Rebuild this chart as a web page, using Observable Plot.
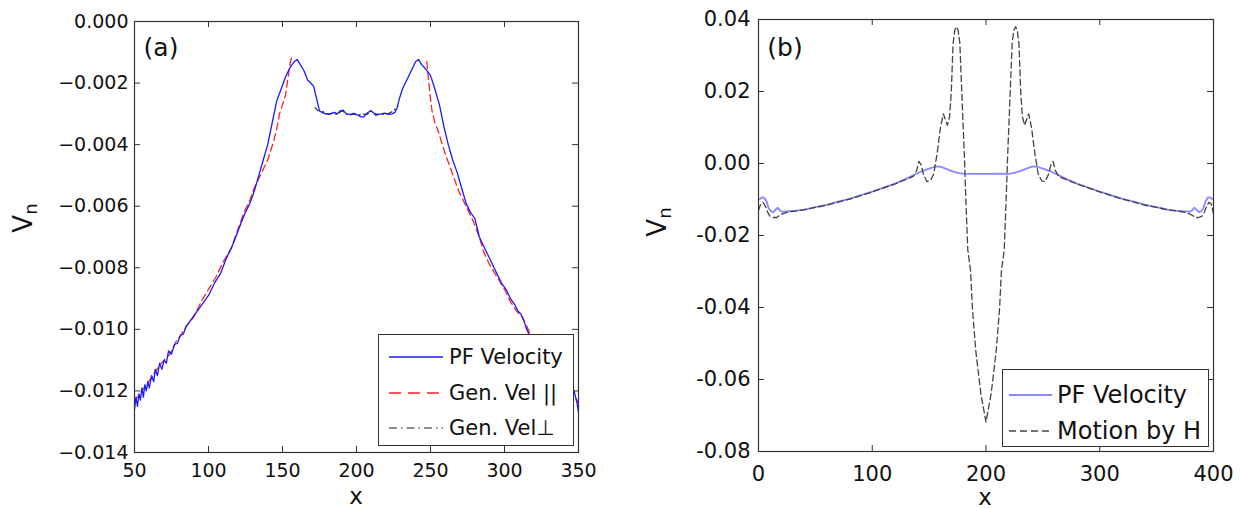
<!DOCTYPE html>
<html><head><meta charset="utf-8">
<script src="https://cdn.jsdelivr.net/npm/d3@7"></script>
<script src="https://cdn.jsdelivr.net/npm/@observablehq/plot@0.6"></script>
<style>
body{margin:0;background:#fff;}
#wrap{position:relative;width:1240px;height:509px;overflow:hidden;font-family:"DejaVu Sans",sans-serif;color:#111}
.panel{position:absolute;top:0}
.lbl{position:absolute;white-space:nowrap;line-height:1}
.legend{position:absolute;border:1.5px solid #333;background:#fff;box-sizing:border-box}
.row{position:absolute;display:flex;align-items:center;white-space:nowrap;line-height:1}
.row svg{display:block}
</style></head><body><div id="wrap"></div>
<script>
// ---------- Panel (a) data ----------
const xTicksA = [50, 100, 150, 200, 250, 300, 350];
const yTicksA = [0, -0.002, -0.004, -0.006, -0.008, -0.010, -0.012, -0.014];
const yTickLabelsA = ["0.000", "\u22120.002", "\u22120.004", "\u22120.006", "\u22120.008", "\u22120.010", "\u22120.012", "\u22120.014"];

const pfA_x = [50,51,52,53,54,55,56,57,58,59,60,61.5,63,64,65.5,67,68.5,70,71.5,73,75,77,79,81,83,85,88,91,94,97,100,104,108,112,116,120,124,128,131,134,137,140,143,146,149,152,155,158,160,162,164.5,167,169,171,173,175,176.5,179,182,185,187,189,191,193,196,198,200,203,205,207,209.5,212,214,217,219,222,224,226,227.5,229,231,233,236,238,240,242,244,246,250,253,256,259,262,265,268,271,274,277,280,283,286,289,292,295,298,301,304,307,309,311,313,315,318,321,324,327,330,333,336,339,342,344,346,347,348,349,350];
const pfA_y = [-0.0126,-0.0122,-0.0125,-0.0121,-0.0123,-0.0119,-0.0122,-0.0118,-0.0120,-0.0117,-0.0119,-0.0115,-0.0117,-0.0113,-0.0115,-0.0111,-0.0113,-0.0110,-0.0111,-0.0107,-0.0108,-0.0105,-0.01045,-0.0102,-0.01015,-0.0099,-0.0097,-0.0095,-0.0093,-0.0091,-0.0089,-0.0085,-0.0082,-0.0077,-0.0073,-0.0068,-0.0063,-0.0059,-0.0055,-0.0050,-0.0045,-0.0040,-0.0033,-0.0026,-0.0022,-0.0018,-0.0015,-0.0013,-0.00124,-0.0014,-0.0016,-0.0019,-0.0020,-0.0021,-0.0025,-0.0029,-0.00295,-0.0030,-0.0030,-0.00295,-0.0030,-0.0029,-0.00288,-0.0030,-0.00302,-0.00298,-0.00302,-0.0031,-0.0031,-0.00298,-0.0029,-0.00298,-0.00302,-0.0030,-0.00298,-0.00302,-0.0030,-0.00295,-0.0028,-0.0025,-0.0022,-0.0020,-0.0017,-0.0015,-0.0013,-0.00124,-0.0014,-0.0015,-0.00175,-0.0022,-0.0027,-0.0034,-0.0040,-0.0045,-0.0049,-0.0054,-0.0059,-0.0062,-0.0064,-0.0070,-0.0073,-0.0076,-0.0079,-0.0082,-0.0085,-0.0087,-0.0090,-0.0092,-0.0094,-0.0095,-0.0097,-0.0100,-0.0103,-0.0106,-0.0108,-0.0110,-0.0112,-0.0114,-0.0116,-0.0118,-0.0120,-0.0121,-0.0121,-0.0120,-0.0122,-0.0124,-0.0127];

const genPar_x = [50,52,55,58,61,65,70,74,78,81,85,90,95,100,105,110,115,118,121,124,128,131,134,137,140,142,144,146,148,150,152,153.5,155,156,200,247.5,248.5,249.5,251,253,255.5,258,260,263,266,269,272,276,279,283,286,290,295,300,304,308,312,316,320,330,340,345,348,350];
const genPar_y = [-0.0123,-0.0122,-0.0120,-0.0118,-0.0116,-0.0113,-0.0110,-0.0108,-0.0104,-0.0102,-0.0099,-0.0096,-0.0091,-0.0087,-0.0083,-0.0078,-0.0074,-0.0070,-0.0066,-0.0062,-0.0058,-0.0054,-0.0051,-0.0048,-0.0045,-0.0042,-0.0039,-0.0035,-0.0030,-0.0027,-0.0024,-0.0019,-0.0014,-0.0012,null,-0.0013,-0.0018,-0.0023,-0.0029,-0.0033,-0.0036,-0.0040,-0.0043,-0.0047,-0.0051,-0.0055,-0.0058,-0.0062,-0.0065,-0.0070,-0.0075,-0.0079,-0.0083,-0.0087,-0.0091,-0.0094,-0.0096,-0.0100,-0.0104,-0.0111,-0.0117,-0.0120,-0.0122,-0.0124];

const genPerp_x = [172,174,176,178,181,184,187,190,192,195,198,201,204,207,210,213,216,219,222,225,227,228];
const genPerp_y = [-0.0028,-0.0029,-0.0029,-0.00295,-0.00302,-0.00298,-0.00302,-0.0029,-0.00295,-0.00305,-0.0030,-0.00305,-0.0030,-0.00302,-0.0029,-0.00305,-0.0030,-0.00302,-0.00298,-0.0029,-0.0028,-0.00275];

// ---------- Panel (b) data ----------
const xTicksB = [0, 100, 200, 300, 400];
const yTicksB = [0.04, 0.02, 0, -0.02, -0.04, -0.06, -0.08];
const yTickLabelsB = ["0.04", "0.02", "0.00", "-0.02", "-0.04", "-0.06", "-0.08"];

const pfB_x = [0,1.5,3,5,7,9,11,13,15,17,19,21,24,30,40,50,60,70,80,90,100,110,120,130,138,144,150,155,158,161,165,170,175,180,190,200,210,220,225,230,235,239,242,245,250,256,262,270,280,290,300,310,320,330,340,350,360,370,376,379,381,383,385,387,389,391,393,395,397,398.5,400];
const pfB_y = [-0.0100,-0.0098,-0.0094,-0.0095,-0.0105,-0.0125,-0.0133,-0.0135,-0.0128,-0.0123,-0.0131,-0.0134,-0.0133,-0.0132,-0.0128,-0.0121,-0.0115,-0.0106,-0.0098,-0.0088,-0.0078,-0.0067,-0.0056,-0.0042,-0.0030,-0.0021,-0.0014,-0.0009,-0.0008,-0.0010,-0.0015,-0.0021,-0.0026,-0.0028,-0.0029,-0.0029,-0.0028,-0.0029,-0.0026,-0.0021,-0.0015,-0.0010,-0.0008,-0.0009,-0.0014,-0.0021,-0.0030,-0.0042,-0.0056,-0.0067,-0.0078,-0.0088,-0.0098,-0.0106,-0.0115,-0.0121,-0.0128,-0.0132,-0.0133,-0.0134,-0.0131,-0.0123,-0.0128,-0.0135,-0.0133,-0.0125,-0.0105,-0.0095,-0.0094,-0.0098,-0.0100];

const motionH_x = [0,2,4,6,8,10,13,16,18,21,25,30,40,50,60,70,80,90,100,110,120,130,136,139,141,143,145,148,151,154,157,160,162.5,164,166,168,169.5,171,172.5,174,175.5,177,179,181,182.5,184,186.5,188,191,195.5,200,204.5,209,212,213.5,216,217.5,219,221,223,224.5,226,227.5,229,230.5,232,234,236,237.5,240,243,246,249,252,255,257,259,261,264,270,280,290,300,310,320,330,340,350,360,370,375,379,382,384,387,390,392,394,396,398,400];
const motionH_y = [-0.0130,-0.0112,-0.0108,-0.0118,-0.0135,-0.0146,-0.0150,-0.0150,-0.0145,-0.0140,-0.0136,-0.0133,-0.0129,-0.0122,-0.0116,-0.0107,-0.0099,-0.0089,-0.0079,-0.0068,-0.0057,-0.0044,-0.0036,-0.0020,0.0006,-0.0004,-0.0030,-0.0050,-0.0048,-0.0030,0.0027,0.0100,0.0138,0.0125,0.0106,0.0130,0.0200,0.0330,0.0370,0.0380,0.0370,0.0335,0.0175,0.0020,-0.0120,-0.0240,-0.0300,-0.0400,-0.0520,-0.0640,-0.0718,-0.0640,-0.0520,-0.0400,-0.0300,-0.0240,-0.0120,0.0020,0.0175,0.0335,0.0370,0.0380,0.0370,0.0330,0.0200,0.0130,0.0106,0.0125,0.0138,0.0100,0.0027,-0.0030,-0.0048,-0.0050,-0.0030,-0.0004,0.0006,-0.0020,-0.0036,-0.0044,-0.0057,-0.0068,-0.0079,-0.0089,-0.0099,-0.0107,-0.0116,-0.0122,-0.0129,-0.0133,-0.0136,-0.0140,-0.0145,-0.0150,-0.0150,-0.0146,-0.0135,-0.0118,-0.0108,-0.0112,-0.0140];

// ---------- helpers ----------
const pts = (xs, ys) => xs.map((x, i) => ({x, y: ys[i]}));

function makePanel(cfg) {
  const fw = cfg.width - cfg.ml - cfg.mr;
  const fh = cfg.height - cfg.mt - cfg.mb;
  const tickLen = 6;
  const marks = [
    ...cfg.series.map(s => Plot.line(pts(s.x, s.y), {
      x: "x", y: "y", stroke: s.color, strokeWidth: s.width,
      strokeDasharray: s.dash, clip: true, curve: "linear"
    })),
    Plot.ruleX(cfg.xTicks, {x: d => d, insetTop: fh - tickLen, stroke: "#333", strokeWidth: 1}),
    Plot.ruleX(cfg.xTicks, {x: d => d, insetBottom: fh - tickLen, stroke: "#333", strokeWidth: 1}),
    Plot.ruleY(cfg.yTicks, {y: d => d, insetRight: fw - tickLen, stroke: "#333", strokeWidth: 1}),
    Plot.ruleY(cfg.yTicks, {y: d => d, insetLeft: fw - tickLen, stroke: "#333", strokeWidth: 1}),
    Plot.frame({stroke: "#333", strokeWidth: 1.2})
  ];
  return Plot.plot({
    width: cfg.width, height: cfg.height,
    marginLeft: cfg.ml, marginRight: cfg.mr, marginTop: cfg.mt, marginBottom: cfg.mb,
    style: {fontSize: cfg.fontSize, fontFamily: "DejaVu Sans", color: "#111", background: "transparent", overflow: "visible"},
    x: {domain: cfg.xDomain, ticks: cfg.xTicks, tickSize: 0, tickPadding: cfg.xPad, tickFormat: d => String(d), label: null},
    y: {domain: cfg.yDomain, ticks: cfg.yTicks, tickSize: 0, tickPadding: cfg.yPad,
        tickFormat: d => cfg.yLabels[cfg.yTicks.indexOf(d)], label: null},
    marks
  });
}

const wrap = document.getElementById("wrap");
function place(el, left) { el.classList.add("panel"); el.style.left = left + "px"; wrap.appendChild(el); }

place(makePanel({
  width: 620, height: 509, ml: 134, mr: 42, mt: 21, mb: 57,
  xDomain: [50, 350], yDomain: [-0.014, 0], xTicks: xTicksA, yTicks: yTicksA, yLabels: yTickLabelsA,
  fontSize: "19px", xPad: 11, yPad: 6,
  series: [
    {x: genPar_x, y: genPar_y, color: "#ff2020", width: 1.3, dash: "7,4"},
    {x: genPerp_x, y: genPerp_y, color: "#222", width: 1.1, dash: "6,3,1.5,3"},
    {x: pfA_x, y: pfA_y, color: "#1a1aff", width: 1.3, dash: null}
  ]
}), 0);

place(makePanel({
  width: 620, height: 509, ml: 138, mr: 27, mt: 19, mb: 58,
  xDomain: [0, 400], yDomain: [-0.08, 0.04], xTicks: xTicksB, yTicks: yTicksB, yLabels: yTickLabelsB,
  fontSize: "21px", xPad: 15, yPad: 8,
  series: [
    {x: pfB_x, y: pfB_y, color: "#8888ff", width: 1.8, dash: null},
    {x: motionH_x, y: motionH_y, color: "#444", width: 1.3, dash: "6,3.5"}
  ]
}), 620);

// ---------- text labels ----------
function label(html, left, top, size, extra, lh) {
  const d = document.createElement("div");
  d.className = "lbl";
  d.innerHTML = html;
  d.style.left = left + "px"; d.style.top = top + "px"; d.style.fontSize = size + "px";
  if (lh) d.style.lineHeight = lh;
  d.style.transform = "translate(-50%,-50%)" + (extra || "");
  wrap.appendChild(d);
}
label("(a)", 161, 47, 25);
label("(b)", 785, 47, 25);
label("x", 356, 497, 23, "", "0.75");
label("x", 985, 498, 23, "", "0.75");
label("V<sub style='font-size:0.7em;vertical-align:-0.3em'>n</sub>", 25, 218, 26, " rotate(-90deg)");
label("V<sub style='font-size:0.7em;vertical-align:-0.3em'>n</sub>", 659, 222, 26, " rotate(-90deg)");

// ---------- legends ----------
function legend(box, rows, size, sampleLeft, sampleW, textLeft) {
  const lg = document.createElement("div");
  lg.className = "legend";
  Object.assign(lg.style, {left: box[0] + "px", top: box[1] + "px", width: box[2] + "px", height: box[3] + "px"});
  rows.forEach(r => {
    const row = document.createElement("div");
    row.className = "row";
    row.style.left = sampleLeft + "px";
    row.style.top = (r.cy - 15) + "px";
    row.style.height = "30px";
    row.style.fontSize = size + "px";
    const ns = "http://www.w3.org/2000/svg";
    const svg = document.createElementNS(ns, "svg");
    svg.setAttribute("width", sampleW); svg.setAttribute("height", 10);
    const ln = document.createElementNS(ns, "line");
    ln.setAttribute("x1", 0); ln.setAttribute("x2", sampleW); ln.setAttribute("y1", 5); ln.setAttribute("y2", 5);
    ln.setAttribute("stroke", r.color); ln.setAttribute("stroke-width", r.width);
    if (r.dash) ln.setAttribute("stroke-dasharray", r.dash);
    svg.appendChild(ln);
    row.appendChild(svg);
    const t = document.createElement("span");
    t.textContent = r.text;
    t.style.marginLeft = (textLeft - sampleLeft - sampleW) + "px";
    row.appendChild(t);
    lg.appendChild(row);
  });
  wrap.appendChild(lg);
}
legend([378, 334, 196, 112], [
  {text: "PF Velocity", color: "#1a1aff", width: 1.3, dash: null, cy: 22},
  {text: "Gen. Vel ||", color: "#ff2020", width: 1.3, dash: "12,7", cy: 58},
  {text: "Gen. Vel\u22a5", color: "#222", width: 1.1, dash: "8,4,1.5,4", cy: 93}
], 21, 10, 54, 70);
legend([1002, 369, 207, 78], [
  {text: "PF Velocity", color: "#8888ff", width: 1.8, dash: null, cy: 25},
  {text: "Motion by H", color: "#444", width: 1.3, dash: "7,4", cy: 61}
], 24, 6, 43, 54);
</script>
</body></html>
